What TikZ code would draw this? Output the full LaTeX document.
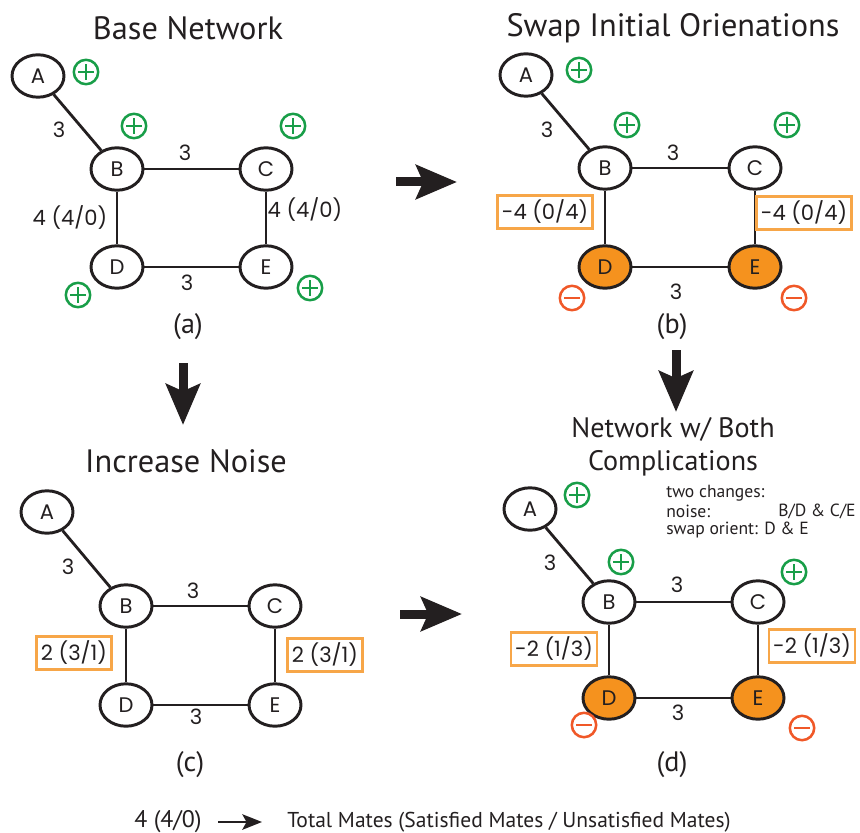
\documentclass[tikz,border=0pt]{standalone}
\usepackage{fontspec}
\setmainfont{PT Sans}
\newfontfamily\geofont{Poppins}
\usepackage{tikz}
\tikzset{>=latex}
\usetikzlibrary{arrows.meta}
\usetikzlibrary{shapes}
\definecolor{ink}{RGB}{35,31,32}
\definecolor{posgreen}{RGB}{24,158,72}
\definecolor{negred}{RGB}{240,88,40}
\definecolor{flipfill}{RGB}{245,146,30}
\definecolor{boxline}{RGB}{247,166,72}

\begin{document}
\begin{tikzpicture}[x=0.025cm, y=-0.025cm]
            \tikzset{vertex/.style={ellipse, draw=ink, line width=2.1pt, fill=white, inner sep=0pt, minimum width=1.3cm, minimum height=1.06cm, text=ink, font={\geofont\fontsize{15}{18}\selectfont}}};
            \tikzset{flipped vertex/.style={vertex, fill=flipfill}};
            \tikzset{link/.style={ink, line width=2pt}};
            \tikzset{wt label/.style={inner sep=0pt, text=ink, font={\geofont\fontsize{15}{18}\selectfont}}};
            \tikzset{mates box/.style={draw=boxline, line width=1.8pt, inner xsep=3pt, minimum height=0.72cm, text=ink, font={\geofont\fontsize{15}{18}\selectfont}}};
            \tikzset{plus mark/.style={circle, draw=posgreen, line width=1.8pt, minimum size=0.61cm, inner sep=0pt,
                path picture={\draw[posgreen, line width=1.8pt] ([xshift=-5.5pt]path picture bounding box.center) -- ([xshift=5.5pt]path picture bounding box.center)
                                                               ([yshift=-5.5pt]path picture bounding box.center) -- ([yshift=5.5pt]path picture bounding box.center);}}};
            \tikzset{minus mark/.style={circle, draw=negred, line width=1.8pt, minimum size=0.61cm, inner sep=0pt,
                path picture={\draw[negred, line width=1.8pt] ([xshift=-5.5pt]path picture bounding box.center) -- ([xshift=5.5pt]path picture bounding box.center);}}};
            \tikzset{panel title/.style={inner sep=0pt, text=ink, font={\fontsize{23}{28}\selectfont}}};
            \tikzset{panel tag/.style={inner sep=0pt, text=ink, font={\fontsize{20}{24}\selectfont}}};
            \tikzset{note/.style={inner sep=0pt, anchor=west, text=ink, font={\fontsize{12.5}{15}\selectfont}}};
            \tikzset{big arrow/.style={-{Stealth[length=29pt, width=24pt, inset=5pt]}, line width=6.4pt, ink}};
            \useasboundingbox (0, 0) rectangle (860, 833);
            % (a) base network
            \node[panel title] (ta) at (188, 28) {Base Network};
            \node[vertex] (aA) at (38, 76) {A};
            \node[vertex] (aB) at (117, 169) {B};
            \node[vertex] (aC) at (266, 169) {C};
            \node[vertex] (aD) at (117, 267) {D};
            \node[vertex] (aE) at (266, 267) {E};
            \draw[link] (aA) -- (aB);
            \draw[link] (aB) -- (aC);
            \draw[link] (aB) -- (aD);
            \draw[link] (aC) -- (aE);
            \draw[link] (aD) -- (aE);
            \node[wt label] (aAB) at (59, 130) {3};
            \node[wt label] (aBC) at (185, 153) {3};
            \node[wt label] (aBD) at (70, 218) {4 (4/0)};
            \node[wt label] (aCE) at (305, 210) {4 (4/0)};
            \node[wt label] (aDE) at (187, 283) {3};
            \node[plus mark] (aAs) at (86, 72) {};
            \node[plus mark] (aBs) at (134, 126) {};
            \node[plus mark] (aCs) at (293, 126) {};
            \node[plus mark] (aDs) at (78, 295) {};
            \node[plus mark] (aEs) at (310, 288) {};
            \node[panel tag] (tga) at (188, 327) {(a)};
            % (b) swapped orientations
            \node[panel title] (tb) at (673, 28) {Swap Initial Orienations};
            \node[vertex] (bA) at (526, 75) {A};
            \node[vertex] (bB) at (605, 168) {B};
            \node[vertex] (bC) at (755, 168) {C};
            \node[flipped vertex] (bD) at (605, 267) {D};
            \node[flipped vertex] (bE) at (755, 267) {E};
            \draw[link] (bA) -- (bB);
            \draw[link] (bB) -- (bC);
            \draw[link] (bB) -- (bD);
            \draw[link] (bC) -- (bE);
            \draw[link] (bD) -- (bE);
            \node[wt label] (bAB) at (547, 130) {3};
            \node[wt label] (bBC) at (673, 153) {3};
            \node[mates box] (bBD) at (545, 212) {-4 (0/4)};
            \node[mates box] (bCE) at (804, 213) {-4 (0/4)};
            \node[wt label] (bDE) at (676, 292) {3};
            \node[plus mark] (bAs) at (579, 70) {};
            \node[plus mark] (bBs) at (627, 125) {};
            \node[plus mark] (bCs) at (787, 125) {};
            \node[minus mark] (bDs) at (572, 298) {};
            \node[minus mark] (bEs) at (794, 298) {};
            \node[panel tag] (tgb) at (672, 327) {(b)};
            % (c) more noise
            \node[panel title] (tc) at (186, 461) {Increase Noise};
            \node[vertex] (cA) at (47, 512) {A};
            \node[vertex] (cB) at (126, 606) {B};
            \node[vertex] (cC) at (275, 606) {C};
            \node[vertex] (cD) at (126, 705) {D};
            \node[vertex] (cE) at (275, 705) {E};
            \draw[link] (cA) -- (cB);
            \draw[link] (cB) -- (cC);
            \draw[link] (cB) -- (cD);
            \draw[link] (cC) -- (cE);
            \draw[link] (cD) -- (cE);
            \node[wt label] (cAB) at (68, 567) {3};
            \node[wt label] (cBC) at (193, 591) {3};
            \node[mates box] (cBD) at (74, 653) {2 (3/1)};
            \node[mates box] (cCE) at (325, 655) {2 (3/1)};
            \node[wt label] (cDE) at (196, 717) {3};
            \node[panel tag] (tgc) at (190, 765) {(c)};
            % (d) both
            \node[panel title, align=center, font={\fontsize{20}{23.5}\selectfont}] (td) at (673, 447) {Network w/ Both\\Complications};
            \node[note] (dnote1) at (666, 493) {two changes:};
            \node[note] (dnote2) at (666, 511) {noise:};
            \node[note] (dnote3) at (778, 511) {B/D \& C/E};
            \node[note] (dnote4) at (666, 530) {swap orient: D \& E};
            \node[vertex] (dA) at (530, 509) {A};
            \node[vertex] (dB) at (609, 602) {B};
            \node[vertex] (dC) at (758, 602) {C};
            \node[flipped vertex] (dD) at (609, 698) {D};
            \node[flipped vertex] (dE) at (758, 698) {E};
            \draw[link] (dA) -- (dB);
            \draw[link] (dB) -- (dC);
            \draw[link] (dB) -- (dD);
            \draw[link] (dC) -- (dE);
            \draw[link] (dD) -- (dE);
            \node[wt label] (dAB) at (550, 563) {3};
            \node[wt label] (dBC) at (677, 585) {3};
            \node[mates box] (dBD) at (554, 649) {-2 (1/3)};
            \node[mates box] (dCE) at (812, 646) {-2 (1/3)};
            \node[wt label] (dDE) at (678, 713) {3};
            \node[plus mark] (dAs) at (577, 495) {};
            \node[plus mark] (dBs) at (621, 562) {};
            \node[plus mark] (dCs) at (794, 572) {};
            \node[minus mark] (dDs) at (584, 725) {};
            \node[minus mark] (dEs) at (802, 728) {};
            \node[panel tag] (tgd) at (672, 765) {(d)};
            % arrows between panels
            \coordinate (ab1) at (396, 182);
            \coordinate (ab2) at (457, 182);
            \coordinate (ac1) at (183, 363);
            \coordinate (ac2) at (183, 425);
            \coordinate (bd1) at (676, 350);
            \coordinate (bd2) at (676, 412);
            \coordinate (cd1) at (400, 614);
            \coordinate (cd2) at (462, 614);
            \draw[big arrow] (ab1) -- (ab2);
            \draw[big arrow] (ac1) -- (ac2);
            \draw[big arrow] (bd1) -- (bd2);
            \draw[big arrow] (cd1) -- (cd2);
            % legend
            \node[inner sep=0pt, text=ink, font={\fontsize{17}{20}\selectfont}] (key) at (168, 822) {4 (4/0)};
            \node[inner sep=0pt, anchor=west, text=ink, font={\fontsize{15.3}{18}\selectfont}] (keytext) at (287, 822) {Total Mates (Satisfied Mates / Unsatisfied Mates)};
            \coordinate (k1) at (218, 822);
            \coordinate (k2) at (262, 822);
            \draw[-{Stealth[length=14pt, width=11pt, inset=3pt]}, line width=1.6pt, ink] (k1) -- (k2);
\end{tikzpicture}
\end{document}
